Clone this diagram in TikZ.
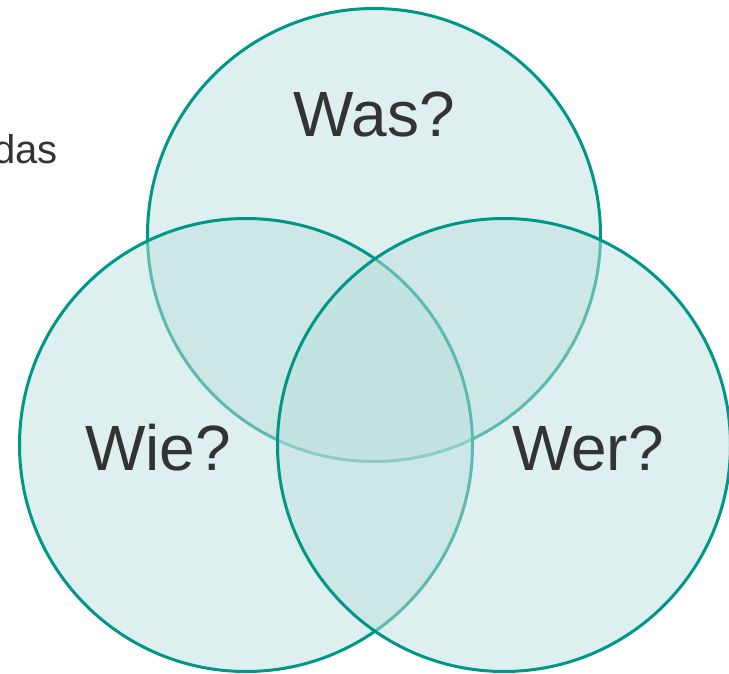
\documentclass[tikz,border=0pt]{standalone}
\usepackage{fontspec}
\setmainfont{Liberation Sans}
\usepackage{tikz}

\definecolor{vennline}{RGB}{0,150,136}
\definecolor{vennfill}{RGB}{187,223,221}
\definecolor{textgray}{RGB}{51,51,51}

\begin{document}
\begin{tikzpicture} [
    x=1pt, y=-1pt,
    every node/.style = {inner sep=0pt, outer sep=0pt},
    venn/.style = {circle, draw=vennline, line width=3pt, fill=vennfill, fill opacity=0.5, draw opacity=1, minimum size=453pt},
    question/.style = {text=textgray, font=\fontsize{64}{64}\selectfont}
]
    \useasboundingbox (0,0) rectangle (729,673);

    \node [venn] (was) at (374,235) {};
    \node [venn] (wie) at (246,445) {};
    \node [venn] (wer) at (504,445) {};

    \node [question] (wasLabel) at (374,114) {Was?};
    \node [question] (wieLabel) at (158,448) {Wie?};
    \node [question] (werLabel) at (588,448) {Wer?};

    \node [text=textgray, font=\fontsize{40}{40}\selectfont, anchor=base east] (das) at (58,163) {das};
\end{tikzpicture}
\end{document}
